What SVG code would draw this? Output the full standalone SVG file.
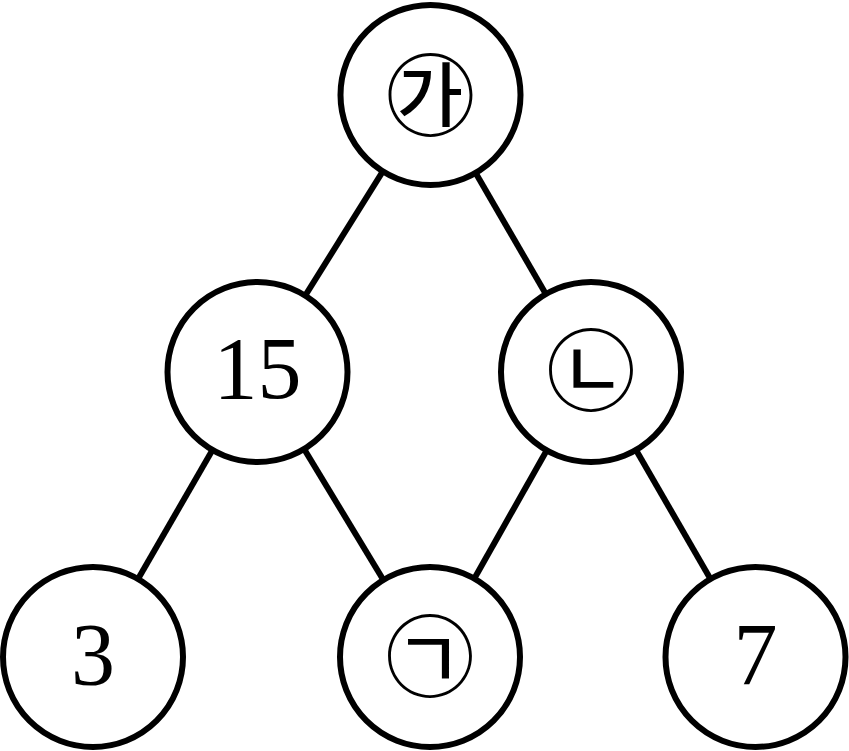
<svg xmlns="http://www.w3.org/2000/svg" width="849" height="751" viewBox="0 0 849 751">
<style>
.node circle{fill:#fff;stroke:#000;stroke-width:6}
.edges line{stroke:#000;stroke-width:6}
.num{font-family:"Liberation Serif","DejaVu Serif",serif;font-size:88px;text-anchor:middle;fill:#000}
.kor{font-family:"Noto Sans CJK KR","Noto Sans CJK SC",sans-serif;font-size:90px;text-anchor:middle;fill:#000}
</style>
<rect width="849" height="751" fill="#fff"/>
<g id="edges" class="edges">
<line x1="430.5" y1="95" x2="257.5" y2="372"/>
<line x1="430.5" y1="95" x2="591" y2="372"/>
<line x1="257.5" y1="372" x2="93" y2="657"/>
<line x1="257.5" y1="372" x2="430" y2="657"/>
<line x1="591" y1="372" x2="430" y2="657"/>
<line x1="591" y1="372" x2="755.5" y2="657"/>
</g>
<g id="node-ga" class="node"><circle cx="430.5" cy="95" r="90"/><text class="kor" x="430.5" y="129">㉮</text></g>
<g id="node-15" class="node"><circle cx="257.5" cy="372" r="90"/><text class="num" x="257.5" y="398">15</text></g>
<g id="node-nieun" class="node"><circle cx="591" cy="372" r="90"/><text class="kor" x="591" y="404">㉡</text></g>
<g id="node-3" class="node"><circle cx="93" cy="657" r="90"/><text class="num" x="93" y="684">3</text></g>
<g id="node-giyeok" class="node"><circle cx="430" cy="657" r="90"/><text class="kor" x="430" y="690">㉠</text></g>
<g id="node-7" class="node"><circle cx="755.5" cy="657" r="90"/><text class="num" x="755.5" y="684">7</text></g>
</svg>
